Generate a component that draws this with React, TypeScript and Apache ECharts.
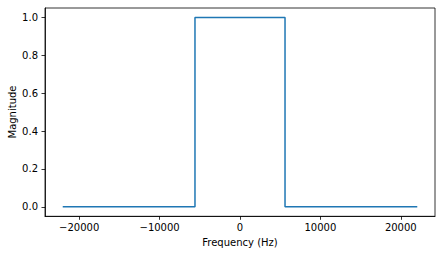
import React, { useEffect, useRef } from "react";
import * as echarts from "echarts";

const freqs = [-22050, -5600, -5600, 5600, 5600, 22050];
const magnitudes = [0, 0, 1, 1, 0, 0];
const xTicks = [-20000, -10000, 0, 10000, 20000];
const yTicks = [0, 0.2, 0.4, 0.6, 0.8, 1.0];

const FONT = "DejaVu Sans";

export default function App() {
  const ref = useRef<HTMLDivElement>(null);
  useEffect(() => {
    const chart = echarts.init(ref.current!, null, { renderer: "svg" });
    const span = freqs[freqs.length - 1] - freqs[0];
    const xMin = freqs[0] - span * 0.05;
    const xMax = freqs[freqs.length - 1] + span * 0.05;
    chart.setOption({
      animation: false,
      grid: {
        left: 45,
        right: 7,
        top: 8,
        bottom: 38.7,
        containLabel: false,
        outerBoundsMode: "none",
        show: true,
        borderColor: "#000",
        borderWidth: 0.8,
        backgroundColor: "#fff",
      },
      graphic: [
        {
          type: "text",
          x: 12,
          y: 112,
          rotation: Math.PI / 2,
          style: {
            text: "Magnitude",
            fontFamily: FONT,
            fontSize: 10,
            fill: "#000",
            align: "center",
            verticalAlign: "middle",
          },
        },
      ],
      xAxis: {
        type: "value",
        min: xMin,
        max: xMax,
        name: "Frequency (Hz)",
        nameLocation: "middle",
        nameGap: 21,
        nameTextStyle: { fontFamily: FONT, fontSize: 10, color: "#000" },
        axisLine: { show: true, onZero: false, lineStyle: { color: "#000", width: 0.8 } },
        axisTick: {
          show: true,
          length: 3.5,
          lineStyle: { color: "#000", width: 0.8 },
          customValues: xTicks,
        },
        axisLabel: {
          customValues: xTicks,
          margin: 6,
          fontFamily: FONT,
          fontSize: 10,
          color: "#000",
          formatter: (v: number) => String(v).replace("-", "\u2212"),
        },
        splitLine: { show: false },
      },
      yAxis: {
        type: "value",
        min: -0.05,
        max: 1.05,
        axisLine: { show: true, onZero: false, lineStyle: { color: "#000", width: 0.8 } },
        axisTick: {
          show: true,
          length: 3.5,
          lineStyle: { color: "#000", width: 0.8 },
          customValues: yTicks,
        },
        axisLabel: {
          customValues: yTicks,
          margin: 7,
          fontFamily: FONT,
          fontSize: 10,
          color: "#000",
          formatter: (v: number) => v.toFixed(1),
        },
        splitLine: { show: false },
      },
      series: [
        {
          type: "line",
          data: freqs.map((f, i) => [f, magnitudes[i]]),
          showSymbol: false,
          symbol: "none",
          lineStyle: { color: "#1f77b4", width: 1.5 },
        },
      ],
    });
    return () => chart.dispose();
  }, []);
  return (
    <div
      ref={ref}
      style={{ position: "fixed", left: 0, top: 0, width: 442, height: 255, background: "#fff" }}
    />
  );
}
